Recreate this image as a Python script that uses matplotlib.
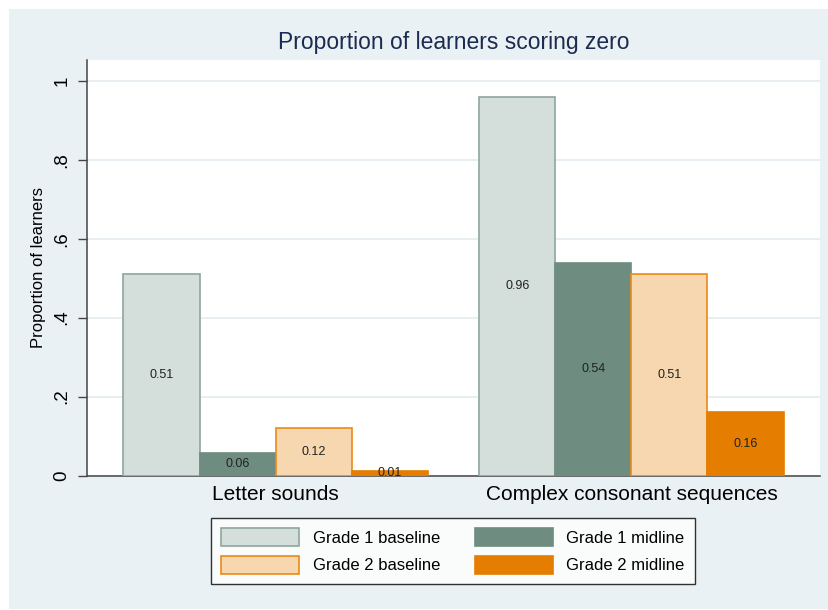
import numpy as np
import matplotlib
matplotlib.use('Agg')
import matplotlib.pyplot as plt
from matplotlib.patches import Rectangle

plt.rcParams['font.family'] = ['Liberation Sans', 'DejaVu Sans']

# data
categories = ['Letter sounds', 'Complex consonant sequences']
series = ['Grade 1 baseline', 'Grade 1 midline', 'Grade 2 baseline', 'Grade 2 midline']
values = [
    [0.51, 0.96],   # Grade 1 baseline
    [0.056, 0.538], # Grade 1 midline
    [0.12, 0.51],   # Grade 2 baseline
    [0.011, 0.161], # Grade 2 midline
]
labels = [
    ['0.51', '0.96'],
    ['0.06', '0.54'],
    ['0.12', '0.51'],
    ['0.01', '0.16'],
]
yticks = [0, 0.2, 0.4, 0.6, 0.8, 1.0]
yticklabels = ['0', '.2', '.4', '.6', '.8', '1']

fills = ['#d4dedb', '#6e8c80', '#f7d7b0', '#e47d00']
edges = ['#8ea69d', '#6e8c80', '#ec8a16', '#e47d00']
bg = '#eaf1f4'

fig = plt.figure(figsize=(8.29, 6.10), dpi=100)
fig.patch.set_facecolor('white')
fig.patches.append(Rectangle((9/829, 1/610), 1, 1 - 10/610, transform=fig.transFigure,
                             facecolor=bg, edgecolor='none', zorder=-10))

ax = fig.add_axes([87/829, 1 - 475.5/610, 733/829, 415.5/610])
ax.set_facecolor('white')

group_pos = np.array([0.0, 4.68])
offsets = [-1.5, -0.5, 0.5, 1.5]
bars = []
for i, s in enumerate(series):
    x = group_pos + offsets[i]
    b = ax.bar(x, values[i], width=1.0, color=fills[i], edgecolor=edges[i],
               linewidth=1.2, label=s, zorder=3)
    bars.append(b)
    for xx, v, t in zip(x, values[i], labels[i]):
        ax.text(xx, v / 2, t, ha='center', va='center', fontsize=9,
                color='#222222', zorder=4)

ax.set_xlim(-2.48, 7.16)
ax.set_ylim(0, 1.053)
ax.set_xticks(group_pos)
ax.set_xticklabels(categories, fontsize=15)
ax.tick_params(axis='x', length=0, pad=6.5)
ax.set_yticks(yticks)
ax.set_yticklabels(yticklabels, fontsize=13.5, rotation=90, va='center')
ax.tick_params(axis='y', length=6.5, width=1, color='#444444', pad=5.5)
ax.yaxis.grid(True, color='#e6eef2', linewidth=1.3, zorder=0)
ax.set_axisbelow(True)
ax.set_ylabel('Proportion of learners', fontsize=12, labelpad=5)

for sp in ['top', 'right']:
    ax.spines[sp].set_visible(False)
for sp in ['left', 'bottom']:
    ax.spines[sp].set_color('#444444')
    ax.spines[sp].set_linewidth(1.1)

ax.set_title('Proportion of learners scoring zero', fontsize=16.5,
             color='#1c2b50', pad=8)

# row-wise legend order like the original
order = [0, 2, 1, 3]
leg = fig.legend([bars[k] for k in order], [series[k] for k in order],
                 loc='center', bbox_to_anchor=(453/829, 1 - 551/610), ncol=2,
                 fontsize=12, frameon=True, fancybox=False, shadow=False,
                 handlelength=4.68, handleheight=1.3, handletextpad=0.8,
                 columnspacing=2.1, borderpad=0.6, labelspacing=0.55)
leg.get_frame().set_edgecolor('black')
leg.get_frame().set_linewidth(1.0)
leg.get_frame().set_facecolor('white')

fig.savefig('out.png', dpi=100, facecolor=fig.get_facecolor())
